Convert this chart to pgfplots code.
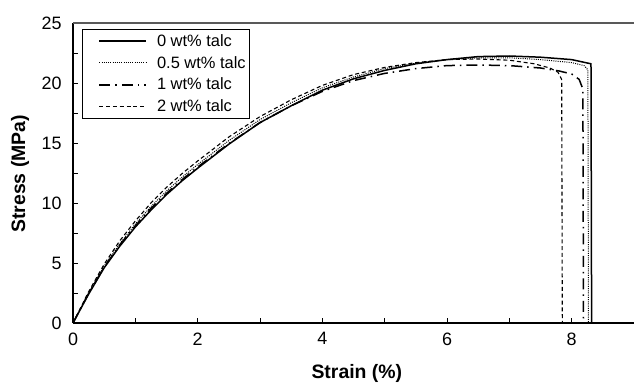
\documentclass[border=0pt]{standalone}
\usepackage{pgfplots}
\pgfplotsset{compat=1.18}
\usepackage{fontspec}
\setmainfont{Liberation Sans}
\begin{document}
\begin{tikzpicture}
\begin{axis}[
  scale only axis,
  width=561bp, height=300bp,
  xmin=0, xmax=9, ymin=0, ymax=25,
  xtick={0,2,4,6,8}, minor xtick={1,3,5,7},
  ytick={0,5,10,15,20,25}, minor ytick={2.5,7.5,12.5,17.5,22.5},
  tick align=inside,
  major tick length=5bp, minor tick length=5bp,
  tick style={black, line width=0.9bp},
  axis x line*=bottom, axis y line*=left,
  axis line style={black, line width=1.1bp, -},
  /pgf/number format/assume math mode=true,
  ticklabel style={font=\fontsize{18}{21}\selectfont},
  xticklabel style={yshift=-6bp},
  yticklabel style={xshift=-8bp},
  xlabel={\textbf{Strain (\%)}},
  ylabel={\textbf{Stress (MPa)}},
  label style={font=\fontsize{19.5}{23}\selectfont},
  xlabel style={at={(axis description cs:0.506,-0.167)}, anchor=center},
  ylabel style={at={(axis description cs:-0.0945,0.497)}, anchor=center, rotate=0},
  legend style={at={(axis description cs:0.0165,0.98)}, anchor=north west,
    draw=black, line width=0.6bp, font=\fontsize{16.5}{19}\selectfont,
    inner xsep=2bp, inner ysep=3bp, row sep=4.5bp},
  legend cell align=left,
  legend image code/.code={\path (-14bp,0bp) (55bp,0bp); \draw[#1] (0bp,0bp) -- (47bp,0bp);},
]
\addplot[black, line width=1.5bp] coordinates {
(0,0) (0.25,2.4) (0.5,4.6) (0.75,6.4) (1,8.0) (1.25,9.4) (1.5,10.7) (1.75,11.85) (2,12.9)
(2.5,14.9) (3,16.7) (3.5,18.1) (4,19.4) (4.5,20.35) (5,21.05) (5.5,21.6) (6,21.95)
(6.5,22.2) (7,22.25) (7.5,22.15) (8,21.95) (8.31,21.6) (8.32,0)};
\addlegendentry{0 wt\% talc}
\addplot[black, line width=1bp, dash pattern=on 1bp off 1.2bp] coordinates {
(0,0) (0.25,2.5) (0.5,4.75) (0.75,6.6) (1,8.25) (1.25,9.7) (1.5,11.0) (1.75,12.15) (2,13.2)
(2.5,15.2) (3,16.95) (3.5,18.35) (4,19.6) (4.5,20.5) (5,21.2) (5.5,21.65) (6,21.95)
(6.5,22.1) (7,22.1) (7.5,21.95) (8,21.7) (8.2,21.45) (8.26,21.1) (8.27,0)};
\addlegendentry{0.5 wt\% talc}
\addplot[black, line width=1.5bp, dash pattern=on 11bp off 5bp on 1.5bp off 5bp] coordinates {
(0,0) (0.25,2.45) (0.5,4.65) (0.75,6.5) (1,8.1) (1.25,9.55) (1.5,10.8) (1.75,11.95) (2,13.0)
(2.5,14.95) (3,16.7) (3.5,18.1) (4,19.3) (4.5,20.2) (5,20.8) (5.5,21.2) (6,21.45)
(6.5,21.5) (7,21.45) (7.5,21.25) (7.8,21.0) (8.0,20.75) (8.12,20.3) (8.18,19.5) (8.19,0)};
\addlegendentry{1 wt\% talc}
\addplot[black, line width=1.1bp, dash pattern=on 4bp off 2.8bp] coordinates {
(0,0) (0.25,2.6) (0.5,4.9) (0.75,6.85) (1,8.5) (1.25,10.0) (1.5,11.3) (1.75,12.45) (2,13.5)
(2.5,15.5) (3,17.2) (3.5,18.6) (4,19.8) (4.5,20.7) (5,21.3) (5.5,21.7) (6,21.95)
(6.5,22.0) (7,21.9) (7.4,21.6) (7.65,21.25) (7.78,20.9) (7.84,20.3) (7.85,0)};
\addlegendentry{2 wt\% talc}
\draw[gray!70!black, line width=1.1bp] (rel axis cs:0,1) -- (rel axis cs:1,1);
\coordinate (tl) at (rel axis cs:0,1);
\coordinate (br) at (rel axis cs:1,0);
\end{axis}
\pgfresetboundingbox
\path[use as bounding box] ([shift={(-73bp,23bp)}]tl) rectangle ([shift={(0bp,-60bp)}]br);
\end{tikzpicture}
\end{document}
